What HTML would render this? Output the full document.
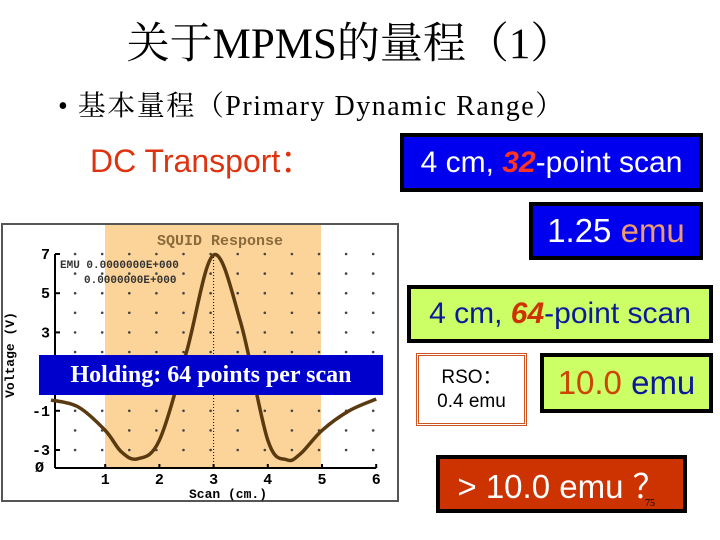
<!DOCTYPE html>
<html><head><meta charset="utf-8">
<style>
body{margin:0;width:720px;height:540px;background:#fff;position:relative;overflow:hidden;font-family:"Liberation Sans","Noto Sans CJK SC",sans-serif}
.a{position:absolute}
.box{position:absolute;box-sizing:border-box;display:flex;align-items:center;justify-content:center;white-space:nowrap}
</style></head><body>
<div class="a" style="left:0;width:700px;top:10px;text-align:center;font:43px 'Liberation Serif','Noto Serif CJK SC',serif;color:#000">关于MPMS的量程（1）</div>
<div class="a" style="left:58px;top:84px;font:28px 'Liberation Serif','Noto Serif CJK SC',serif;letter-spacing:1.5px;color:#000">• 基本量程（Primary Dynamic Range）</div>
<div class="a" style="left:90px;top:136px;font-size:32px;color:#dd3311">DC Transport：</div>

<div class="box" style="left:400px;top:133px;width:303px;height:59px;background:#0000ee;border:4px solid #000;color:#fff;font-size:30px">4 cm,&nbsp;<b style="color:#ff3322;font-style:italic">32</b>-point scan</div>
<div class="box" style="left:529px;top:202px;width:174px;height:58px;background:#0000ee;border:4px solid #000;color:#fff;font-size:33px">1.25&nbsp;<span style="color:#ee9a70">emu</span></div>
<div class="box" style="left:407px;top:285px;width:306px;height:58px;background:#ccff66;border:4px solid #000;color:#0a1a9a;font-size:30px">4 cm,&nbsp;<b style="color:#cc3300;font-style:italic">64</b>-point scan</div>
<div class="box" style="left:416px;top:353px;width:111px;height:73px;background:#fff;border:3px double #cc5522;color:#000;font-size:19px;flex-direction:column;line-height:24px">RSO：<span>0.4 emu</span></div>
<div class="box" style="left:540px;top:353px;width:173px;height:60px;background:#ccff66;border:4px solid #000;color:#0a1a9a;font-size:33px"><span style="color:#cc4400">10.0</span>&nbsp;emu</div>
<div class="box" style="left:436px;top:455px;width:251px;height:58px;background:#cc3300;border:4px solid #000;color:#fff;font-size:33px">&gt; 10.0 emu ？</div>
<div class="a" style="left:645px;top:498px;font:10px 'Liberation Serif',serif;color:#000">75</div>

<svg class="a" style="left:0;top:220px" width="400" height="285">
<rect x="2" y="4" width="396" height="277" fill="#fff" stroke="#555" stroke-width="2"/>
<rect x="105" y="5" width="216" height="243" fill="#fcd49a"/>
<g id="dots"></g>
<text x="220" y="25" text-anchor="middle" font-family="Liberation Mono" font-weight="bold" font-size="15" fill="#8a6a3a">SQUID Response</text>
<text x="60" y="48" font-family="Liberation Mono" font-size="11" font-weight="bold" fill="#333">EMU 0.0000000E+000</text>
<text x="84" y="63" font-family="Liberation Mono" font-size="11" font-weight="bold" fill="#333">0.0000000E+000</text>
<g id="axes" stroke="#000" stroke-width="2"></g>
<g id="labels" font-family="Liberation Mono" font-weight="bold" font-size="15" fill="#000"></g>
<text x="14" y="135" transform="rotate(-90 14 135)" text-anchor="middle" font-family="Liberation Mono" font-weight="bold" font-size="13">Voltage (V)</text>
<text x="228" y="278" text-anchor="middle" font-family="Liberation Mono" font-weight="bold" font-size="13">Scan (cm.)</text>
<path id="curve" fill="none" stroke="#5a3a10" stroke-width="3.5"/>
</svg>
<div class="box" style="left:39px;top:355px;width:344px;height:40px;background:#0000cc;color:#fff;font:bold 24px 'Liberation Serif',serif">Holding: 64 points per scan</div>

<script>
const xs=[0,0.5,1,1.3,1.6,2,2.5,3,3.5,4,4.35,4.6,5,5.5,6];
const vs=[-0.45,-0.8,-2.0,-3.1,-3.45,-2.5,2.0,6.95,3.5,-2.5,-3.5,-3.2,-2.0,-1.0,-0.4];
const xTicks=[1,2,3,4,5,6];
const yTicks=[7,5,3,1,-1,-3];
const X=v=>51+v*54.2, Y=v=>34+(7-v)*19.6;
const ns='http://www.w3.org/2000/svg';
function mk(t,a,p){const e=document.createElementNS(ns,t);for(const k in a)e.setAttribute(k,a[k]);p.appendChild(e);return e;}
const pts=xs.map((x,i)=>[X(x),Y(vs[i])]);
let d='M'+pts[0];
for(let i=0;i<pts.length-1;i++){const p0=pts[i-1]||pts[i],p1=pts[i],p2=pts[i+1],p3=pts[i+2]||p2;
d+=' C'+(p1[0]+(p2[0]-p0[0])/6)+','+(p1[1]+(p2[1]-p0[1])/6)+' '+(p2[0]-(p3[0]-p1[0])/6)+','+(p2[1]-(p3[1]-p1[1])/6)+' '+p2[0]+','+p2[1];}
document.getElementById('curve').setAttribute('d',d);
const ax=document.getElementById('axes');
mk('line',{x1:55,y1:Y(7),x2:55,y2:248},ax);
mk('line',{x1:55,y1:248,x2:X(6),y2:248},ax);
mk('line',{x1:X(3),y1:Y(7),x2:X(3),y2:248,'stroke-dasharray':'1 2','stroke-width':1},ax);
const lb=document.getElementById('labels');
xTicks.forEach(t=>{const e=mk('text',{x:X(t),y:264,'text-anchor':'middle'},lb);e.textContent=t;


mk('line',{x1:X(t),y1:244,x2:X(t),y2:248},ax);});
yTicks.forEach(t=>{const e=mk('text',{x:50,y:Y(t)+5,'text-anchor':'end'},lb);e.textContent=t;


mk('line',{x1:55,y1:Y(t),x2:60,y2:Y(t)},ax);});
const z=mk('text',{x:44,y:252,'text-anchor':'end'},lb);z.textContent='Ø';
const dg=document.getElementById('dots');
for(let i=0;i<12;i++)for(let j=0;j<11;j++)mk('circle',{cx:X(0.5+i*0.5)-3,cy:Y(7)+j*19.6,r:1.3,fill:'#444'},dg);
</script>
</body></html>
